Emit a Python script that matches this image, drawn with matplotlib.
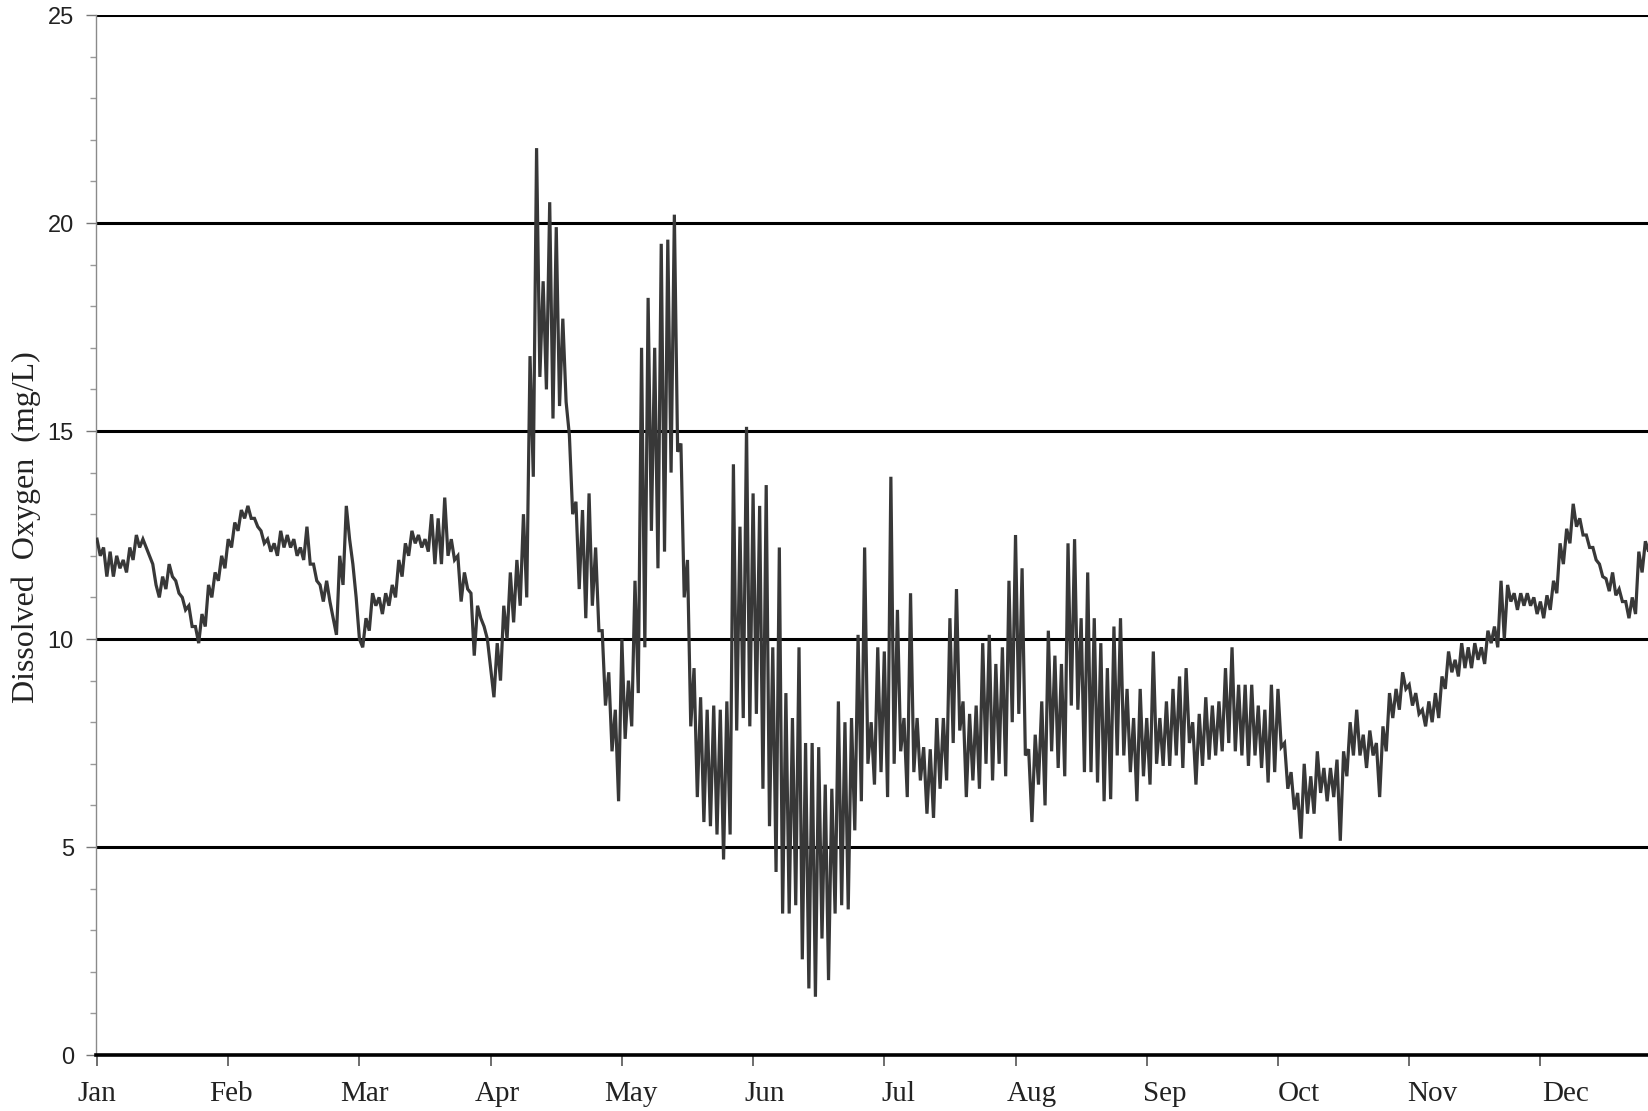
import numpy as np
import matplotlib
matplotlib.use("Agg")
import matplotlib.pyplot as plt

# x unit: month index (0 = Jan 1st tick, 1 = Feb tick, ...); samples every 0.05 month
month_labels = ["Jan", "Feb", "Mar", "Apr", "May", "Jun",
                "Jul", "Aug", "Sep", "Oct", "Nov", "Dec"]
y_ticks = [0, 5, 10, 15, 20, 25]
sample_step = 0.05

# daily high / low envelope of dissolved oxygen (mg/L), read per month
jan_hi = [12.4, 12.2, 12.1, 12.0, 11.9, 12.2, 12.5, 12.4, 12.0, 11.3, 11.5, 11.8, 11.4, 11.0, 10.8, 10.3, 10.6, 11.3, 11.6, 12.0]
jan_lo = [12.0, 11.5, 11.5, 11.7, 11.6, 11.9, 12.2, 12.2, 11.8, 11.0, 11.2, 11.5, 11.1, 10.7, 10.3, 9.9, 10.3, 11.0, 11.4, 11.7]
feb_hi = [12.4, 12.8, 13.1, 13.2, 12.9, 12.6, 12.4, 12.3, 12.6, 12.5, 12.4, 12.2, 12.7, 11.8, 11.3, 11.4, 10.5, 12.0, 13.2, 11.8]
feb_lo = [12.2, 12.6, 12.9, 12.9, 12.7, 12.3, 12.1, 12.0, 12.2, 12.2, 12.0, 11.9, 11.8, 11.4, 10.9, 10.9, 10.1, 11.3, 12.4, 11.0]
mar_hi = [10.0, 10.5, 11.1, 11.0, 11.1, 11.3, 11.9, 12.3, 12.6, 12.5, 12.4, 13.0, 12.9, 13.4, 12.4, 12.0, 11.6, 11.1, 10.8, 10.3]
mar_lo = [9.8, 10.2, 10.8, 10.6, 10.8, 11.0, 11.5, 12.0, 12.3, 12.2, 12.1, 11.8, 11.8, 12.0, 11.9, 10.9, 11.2, 9.6, 10.5, 10.0]
apr_hi = [9.3, 9.9, 10.8, 11.6, 11.9, 13.0, 16.8, 21.8, 18.6, 20.5, 19.9, 17.7, 14.9, 13.3, 13.1, 13.5, 12.2, 10.2, 9.2, 8.3]
apr_lo = [8.6, 9.0, 10.0, 10.4, 10.8, 11.0, 13.9, 16.3, 16.0, 15.3, 15.6, 15.7, 13.0, 11.2, 10.5, 10.8, 10.2, 8.4, 7.3, 6.1]
may_hi = [10.0, 9.0, 11.4, 17.0, 18.2, 17.0, 19.5, 19.6, 20.2, 14.7, 11.9, 9.3, 8.6, 8.3, 8.4, 8.3, 8.5, 14.2, 12.7, 15.1]
may_lo = [7.6, 7.9, 8.7, 9.8, 12.6, 11.7, 12.1, 14.0, 14.5, 11.0, 7.9, 6.2, 5.6, 5.5, 5.3, 4.7, 5.3, 7.8, 8.1, 7.9]
jun_hi = [13.5, 13.2, 13.7, 9.8, 12.2, 8.7, 8.1, 9.8, 7.5, 7.5, 7.4, 6.5, 6.4, 8.5, 8.0, 8.1, 10.1, 12.2, 8.0, 9.8]
jun_lo = [8.2, 6.4, 5.5, 4.4, 3.4, 3.4, 3.6, 2.3, 1.6, 1.4, 2.8, 1.8, 3.4, 3.6, 3.5, 5.4, 6.1, 7.0, 6.5, 6.8]
jul_hi = [9.7, 13.9, 10.7, 8.1, 11.1, 8.1, 7.4, 7.35, 8.1, 8.1, 10.5, 11.2, 8.5, 8.2, 8.4, 9.9, 10.1, 9.4, 9.8, 11.4]
jul_lo = [6.2, 7.0, 7.3, 6.2, 6.8, 6.6, 5.8, 5.7, 6.4, 6.6, 7.5, 7.8, 6.2, 6.6, 6.4, 7.0, 6.6, 7.0, 6.7, 8.0]
aug_hi = [12.5, 11.7, 7.35, 7.7, 8.5, 10.2, 9.6, 9.4, 12.3, 12.4, 10.5, 11.6, 10.5, 9.9, 9.3, 10.3, 10.5, 8.8, 8.1, 8.8]
aug_lo = [8.2, 7.2, 5.6, 6.5, 6.0, 7.3, 6.9, 6.7, 8.4, 8.3, 6.8, 6.8, 6.55, 6.1, 6.15, 7.2, 7.2, 6.8, 6.1, 6.7]
sep_hi = [8.1, 9.7, 8.1, 8.5, 8.8, 9.1, 9.3, 8.0, 8.2, 8.6, 8.4, 8.5, 9.3, 9.8, 8.9, 8.9, 8.9, 8.4, 8.3, 8.9]
sep_lo = [6.5, 7.0, 6.95, 6.95, 7.2, 6.9, 7.5, 6.5, 6.95, 7.1, 7.2, 7.3, 7.5, 7.3, 7.2, 6.95, 7.2, 6.9, 6.55, 6.8]
oct_hi = [8.8, 7.5, 6.8, 6.3, 7.0, 6.7, 7.3, 6.9, 6.9, 7.1, 7.3, 8.0, 8.3, 7.7, 7.8, 7.5, 7.9, 8.7, 8.8, 9.2]
oct_lo = [7.4, 6.4, 5.9, 5.2, 5.8, 5.8, 6.3, 6.1, 6.2, 5.15, 6.7, 7.2, 7.2, 6.9, 7.2, 6.2, 7.3, 8.1, 8.3, 8.8]
nov_hi = [8.9, 8.7, 8.3, 8.5, 8.7, 9.1, 9.7, 9.5, 9.9, 9.8, 9.9, 9.8, 10.2, 10.3, 11.4, 11.3, 11.1, 11.1, 11.1, 11.0]
nov_lo = [8.4, 8.2, 7.9, 8.0, 8.1, 8.8, 9.2, 9.1, 9.3, 9.3, 9.5, 9.4, 9.9, 9.8, 10.0, 10.9, 10.7, 10.8, 10.8, 10.6]
dec_hi = [10.9, 11.05, 11.4, 12.3, 12.65, 13.25, 12.9, 12.5, 12.2, 11.8, 11.45, 11.6, 11.2, 10.9, 11.0, 12.1, 12.35, 12.5]
dec_lo = [10.5, 10.7, 11.1, 11.8, 12.3, 12.7, 12.5, 12.2, 11.9, 11.5, 11.15, 11.05, 10.9, 10.5, 10.6, 11.6, 12.1, 12.3]

months_hi = [jan_hi, feb_hi, mar_hi, apr_hi, may_hi, jun_hi, jul_hi, aug_hi, sep_hi, oct_hi, nov_hi, dec_hi]
months_lo = [jan_lo, feb_lo, mar_lo, apr_lo, may_lo, jun_lo, jul_lo, aug_lo, sep_lo, oct_lo, nov_lo, dec_lo]

# build the trace: high then low within each sample interval
tx, ty = [], []
for m, (hi, lo) in enumerate(zip(months_hi, months_lo)):
    for k, (h, l) in enumerate(zip(hi, lo)):
        t = m + k * sample_step
        tx += [t, t + sample_step / 2]
        ty += [h, l]

W, H = 1648, 1111
fig = plt.figure(figsize=(W / 100, H / 100), dpi=100)
fig.patch.set_facecolor("white")
ax = fig.add_axes([96 / W, 1 - 1055 / H, (W - 96) / W, (1055 - 15) / H])

ax.set_xlim(-0.0076, 11.82)
ax.set_ylim(0, 25)

# horizontal grid lines
for yv in y_ticks[1:]:
    ax.axhline(yv, color="black", lw=2.2, zorder=1)

ax.plot(tx, ty, color="#383838", lw=2.3, zorder=3, solid_joinstyle="miter")

for s in ["top", "right"]:
    ax.spines[s].set_visible(False)
ax.spines["bottom"].set_color("black")
ax.spines["bottom"].set_linewidth(2.6)
ax.spines["left"].set_color("#8a8a8a")
ax.spines["left"].set_linewidth(1.0)

ax.set_yticks(y_ticks)
ax.set_yticklabels([str(v) for v in y_ticks], fontsize=17, family="Liberation Sans", color="#222222")
ax.set_yticks(np.arange(0, 26, 1), minor=True)
ax.tick_params(axis="y", which="major", length=7, width=1, color="#777777", pad=9)
ax.tick_params(axis="y", which="minor", length=4, width=1, color="#999999")

# month ticks (unlabelled) and month labels (slightly wider spacing, as in original)
ax.xaxis.remove_overlapping_locs = False
ax.set_xticks(np.arange(len(month_labels)))
ax.set_xticklabels([])
ax.tick_params(axis="x", which="major", length=8, width=1.2, color="#555555", direction="out")
label_pos = np.arange(len(month_labels)) * (133.5 / 131.2)
ax.set_xticks(label_pos, minor=True)
ax.set_xticklabels(month_labels, minor=True, fontsize=21, family="Liberation Serif", color="#222222")
ax.tick_params(axis="x", which="minor", length=0, pad=19)

fig.text(26 / W, 1 - 527 / H, "Dissolved  Oxygen  (mg/L)", rotation=90, ha="center", va="center",
         fontsize=23, family="Liberation Serif", color="#222222")

fig.savefig("out.png", dpi=100, facecolor="white")
